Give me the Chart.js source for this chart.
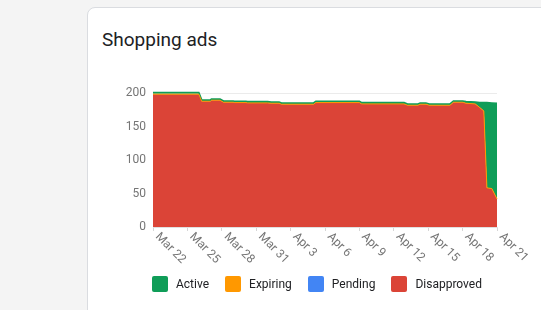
<!DOCTYPE html>
<html>
<head>
<meta charset="utf-8">
<script src="https://cdn.jsdelivr.net/npm/chart.js@4.4.1/dist/chart.umd.min.js"></script>
<style>
  html, body { margin: 0; padding: 0; }
  body { width: 541px; height: 310px; overflow: hidden; background: #f4f4f4; position: relative; font-family: Roboto, sans-serif; }
  .card { position: absolute; left: 87px; top: 7px; width: 520px; height: 340px; background: #fff; border: 1px solid #dadce0; border-radius: 8px; box-sizing: border-box; }
  .title { position: absolute; left: 102px; top: 28px; font-size: 19px; color: #202124; line-height: 24px; }
  #wrap { position: absolute; left: 90px; top: 79px; width: 451px; height: 200px; }
  #legend { position: absolute; left: 152px; top: 276px; display: flex; align-items: center; font-size: 12px; color: #202124; }
  #legend .item { display: flex; align-items: center; margin-right: 16px; }
  #legend .box { width: 16px; height: 16px; border-radius: 2px; margin-right: 8px; }
</style>
</head>
<body>
<div class="card"></div>
<div class="title">Shopping ads</div>
<div id="wrap"><canvas id="areaChart" width="451" height="200"></canvas></div>
<div id="legend"></div>
<script>
// day offsets from Mar 22
const days = [0, 4.0, 4.25, 5.0, 5.1, 5.85, 6.15, 7.0, 7.1, 8.1,
    8.25, 10.0, 10.3, 11.0, 11.2, 14.0, 14.2, 18.0, 18.2, 21.9,
    22.2, 23.1, 23.3, 23.8, 24.1, 25.9, 26.2, 27.0, 27.3, 28.1,
    28.5, 28.85, 29.12, 29.55, 30];

const disapproved = [198.5, 198.5, 188, 188, 189.5, 189.5, 186.5, 186.5, 186, 186,
    185.5, 185.5, 185, 185, 183.5, 183.5, 186, 186, 184, 184,
    182, 182, 183.5, 183.5, 182, 182, 186.5, 186.5, 185, 184,
    178.5, 173.5, 58.5, 57.5, 42];
const pending = days.map(() => 0);
const expiring = days.map(() => 0);
const active = [2.5, 2.5, 2, 2, 2, 2, 2, 2, 2, 2,
    2, 2, 2, 2, 2, 2, 2, 2, 2, 2,
    2, 2, 2, 2, 2, 2, 2, 2, 2.5, 3,
    7.5, 12.5, 127.5, 128, 143];

const tickLabels = ['Mar 22', 'Mar 25', 'Mar 28', 'Mar 31', 'Apr 3', 'Apr 6',
    'Apr 9', 'Apr 12', 'Apr 15', 'Apr 18', 'Apr 21'];
const yTicks = [0, 50, 100, 150, 200];

const legendNames = ['Active', 'Expiring', 'Pending', 'Disapproved'];
const legendColors = ['#0f9d58', '#ff9800', '#4285f4', '#db4437'];

const toPoints = arr => days.map((d, i) => ({ x: d, y: arr[i] }));

// rotated date labels, drawn below the axis from the scale's own ticks
const dateTicks = {
    id: 'dateTicks',
    afterDraw(chart) {
        const xs = chart.scales.x;
        const ctx = chart.ctx;
        ctx.save();
        ctx.font = '12px Roboto';
        ctx.fillStyle = '#757575';
        ctx.textAlign = 'left';
        ctx.textBaseline = 'middle';
        xs.ticks.forEach((t, i) => {
            const px = xs.getPixelForValue(t.value);
            ctx.save();
            ctx.translate(px + 4, xs.top + 8);
            ctx.rotate(Math.PI / 4);
            ctx.fillText(tickLabels[i], 0, 0);
            ctx.restore();
        });
        ctx.restore();
    }
};

const ctx = document.getElementById('areaChart').getContext('2d');
new Chart(ctx, {
    type: 'line',
    data: {
        datasets: [{
            label: 'Disapproved',
            data: toPoints(disapproved),
            backgroundColor: '#db4437',
            borderColor: '#db4437',
            borderWidth: 0,
            fill: 'origin'
        }, {
            label: 'Pending',
            data: toPoints(pending),
            backgroundColor: '#4285f4',
            borderColor: '#4285f4',
            borderWidth: 0,
            fill: '-1'
        }, {
            label: 'Expiring',
            data: toPoints(expiring),
            backgroundColor: '#ff9800',
            borderColor: '#ff9800',
            borderWidth: 1,
            fill: '-1'
        }, {
            label: 'Active',
            data: toPoints(active),
            backgroundColor: '#0f9d58',
            borderColor: '#0f9d58',
            borderWidth: 1.5,
            fill: '-1'
        }]
    },
    options: {
        responsive: false,
        animation: false,
        layout: { padding: { left: 13, right: 44, top: 0, bottom: 48 } },
        elements: { point: { radius: 0 }, line: { tension: 0 } },
        datasets: { line: { clip: 6 } },
        plugins: {
            legend: { display: false },
            tooltip: { enabled: false },
            filler: { drawTime: 'beforeDatasetsDraw' }
        },
        scales: {
            x: {
                type: 'linear',
                min: 0,
                max: 30,
                ticks: { stepSize: 3, display: false },
                grid: { drawOnChartArea: false, drawTicks: true, tickLength: 4, color: '#d6d6d6' },
                border: { color: '#e0e0e0' }
            },
            y: {
                stacked: true,
                min: 0,
                max: 200,
                afterFit: scale => { scale.width = 50; },
                afterBuildTicks: scale => { scale.ticks = yTicks.map(v => ({ value: v })); },
                ticks: { color: '#757575', font: { family: 'Roboto', size: 12 }, padding: 7 },
                grid: { drawTicks: false, color: '#ebebeb' },
                border: { display: false }
            }
        }
    },
    plugins: [dateTicks]
});

const legend = document.getElementById('legend');
legendNames.forEach((name, i) => {
    const item = document.createElement('div');
    item.className = 'item';
    item.innerHTML = '<div class="box" style="background:' + legendColors[i] + '"></div><span>' + name + '</span>';
    legend.appendChild(item);
});
</script>
</body>
</html>
